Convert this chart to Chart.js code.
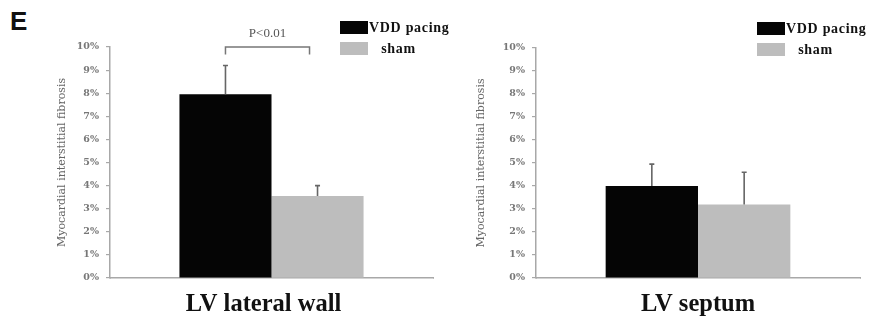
<!DOCTYPE html>
<html>
<head>
<meta charset="utf-8">
<script src="https://cdn.jsdelivr.net/npm/chart.js@4.4.1/dist/chart.umd.min.js"></script>
<style>
  html, body { margin: 0; padding: 0; background: #fff; }
  body { width: 883px; height: 325px; position: relative; overflow: hidden; }
  #wrapL { position: absolute; left: 0; top: 0; width: 450px; height: 325px; }
  #wrapR { position: absolute; left: 450px; top: 0; width: 433px; height: 325px; }
  #panelLetter { position: absolute; left: 10px; top: 6px; font: bold 26px "Liberation Sans", Arial, sans-serif; color: #111; }
</style>
</head>
<body>
<div id="panelLetter">E</div>
<div id="wrapL"><canvas id="cL" width="450" height="325"></canvas></div>
<div id="wrapR"><canvas id="cR" width="433" height="325"></canvas></div>
<script>
// ---- data ----
const seriesNames = ['VDD pacing', 'sham'];
const leftCategories = ['LV lateral wall'];
const rightCategories = ['LV septum'];
const vddLeft = [7.95];
const shamLeft = [3.55];
const vddLeftErr = [1.25];
const shamLeftErr = [0.45];
const vddRight = [4.0];
const shamRight = [3.2];
const vddRightErr = [0.95];
const shamRightErr = [1.4];
const yTicks = [0,1,2,3,4,5,6,7,8,9,10];
const yTitle = 'Myocardial interstitial fibrosis';
const sigLabel = 'P<0.01';
const sigLevel = 10;       // bracket top (value units)
const sigDrop = 0.33;      // bracket arm length (value units)

const colVDD = '#050505';
const colSham = '#bdbdbd';
const axisCol = '#a8a8a8';
const serif = '"Liberation Serif", "Times New Roman", serif';
const wideSerif = '"DejaVu Serif", serif';

const errorBarPlugin = {
  id: 'errorBars',
  afterDatasetsDraw(chart) {
    const ctx = chart.ctx;
    const ys = chart.scales.y;
    chart.data.datasets.forEach((ds, di) => {
      const meta = chart.getDatasetMeta(di);
      meta.data.forEach((bar, i) => {
        const v = ds.data[i], e = ds.errors[i];
        const yTop = ys.getPixelForValue(v + e);
        const yBar = ys.getPixelForValue(v);
        ctx.save();
        ctx.strokeStyle = '#666';
        ctx.lineWidth = 1.6;
        ctx.beginPath();
        ctx.moveTo(bar.x, yBar);
        ctx.lineTo(bar.x, yTop);
        ctx.moveTo(bar.x - 2.5, yTop);
        ctx.lineTo(bar.x + 2.5, yTop);
        ctx.stroke();
        ctx.restore();
      });
    });
  }
};

const legendPlugin = {
  id: 'customLegend',
  afterDraw(chart, args, opts) {
    const ctx = chart.ctx;
    const x0 = opts.x, y0 = opts.y;
    chart.data.datasets.forEach((ds, i) => {
      const y = y0 + i * 21;
      ctx.save();
      ctx.fillStyle = ds.backgroundColor;
      ctx.fillRect(x0, y, 28, 13);
      ctx.fillStyle = '#111';
      ctx.font = 'bold 14px ' + serif;
      try { ctx.letterSpacing = '0.7px'; } catch (e) {}
      ctx.textBaseline = 'middle';
      ctx.textAlign = 'left';
      ctx.fillText(ds.label, x0 + (i === 0 ? 29 : 37), y + 7);
      ctx.restore();
    });
  }
};

const sigPlugin = {
  id: 'sigBracket',
  afterDraw(chart, args, opts) {
    if (!opts.show) return;
    const ctx = chart.ctx;
    const ys = chart.scales.y;
    const b0 = chart.getDatasetMeta(0).data[0];
    const b1 = chart.getDatasetMeta(1).data[0];
    const xa = b0.x, xb = b1.x - 8;
    const yt = ys.getPixelForValue(sigLevel);
    const yb = ys.getPixelForValue(sigLevel - sigDrop);
    ctx.save();
    ctx.strokeStyle = '#777';
    ctx.lineWidth = 1.5;
    ctx.beginPath();
    ctx.moveTo(xa, yb); ctx.lineTo(xa, yt); ctx.lineTo(xb, yt); ctx.lineTo(xb, yb);
    ctx.stroke();
    ctx.fillStyle = '#555';
    ctx.font = '13px ' + serif;
    ctx.textAlign = 'center';
    ctx.textBaseline = 'middle';
    ctx.fillText(sigLabel, (xa + xb) / 2, yt - 13);
    ctx.restore();
  }
};

function makeChart(id, cats, vdd, sham, vddErr, shamErr, axisW, padRight, padTop, titlePad, legendPos, showSig, lblOffset) {
  return new Chart(document.getElementById(id), {
    type: 'bar',
    data: {
      labels: cats,
      datasets: [
        { label: seriesNames[0], data: vdd, errors: vddErr, backgroundColor: colVDD, borderWidth: 0,
          barPercentage: 1.0, categoryPercentage: 0.57 },
        { label: ' ' + seriesNames[1], data: sham, errors: shamErr, backgroundColor: colSham, borderWidth: 0,
          barPercentage: 1.0, categoryPercentage: 0.57 }
      ]
    },
    options: {
      responsive: false,
      animation: false,
      layout: { padding: { top: padTop, right: padRight, left: 0, bottom: 0 } },
      plugins: {
        legend: { display: false },
        tooltip: { enabled: false },
        customLegend: legendPos,
        sigBracket: { show: showSig }
      },
      scales: {
        x: {
          grid: { display: true, drawOnChartArea: false, tickLength: 0, color: axisCol },
          border: { display: true, color: axisCol, width: 1.5 },
          ticks: { color: '#111', font: { family: serif, size: 24.5, weight: 'bold' }, padding: 12,
                   labelOffset: lblOffset },
          afterFit(s) { s.height = 47; }
        },
        y: {
          min: 0, max: 10,
          afterBuildTicks(s) { s.ticks = yTicks.map(v => ({ value: v })); },
          grid: { display: true, drawOnChartArea: false, tickLength: 4, color: axisCol, lineWidth: 1.2 },
          border: { display: true, color: axisCol, width: 1.5 },
          ticks: { color: '#777', font: { family: wideSerif, size: 9.5, weight: 'bold' }, padding: 7,
                   callback: v => v + '%' },
          title: { display: true, text: yTitle, color: '#666', font: { family: wideSerif, size: 11 },
                   padding: { top: titlePad, bottom: 0 } },
          afterFit(s) { s.width = axisW; }
        }
      }
    },
    plugins: [errorBarPlugin, legendPlugin, sigPlugin]
  });
}

makeChart('cL', leftCategories, vddLeft, shamLeft, vddLeftErr, shamLeftErr, 110, 17, 47, 56, { x: 340, y: 21 }, true, -8);
makeChart('cR', rightCategories, vddRight, shamRight, vddRightErr, shamRightErr, 86, 23, 48, 25, { x: 307, y: 22 }, false, 0);
</script>
</body>
</html>
